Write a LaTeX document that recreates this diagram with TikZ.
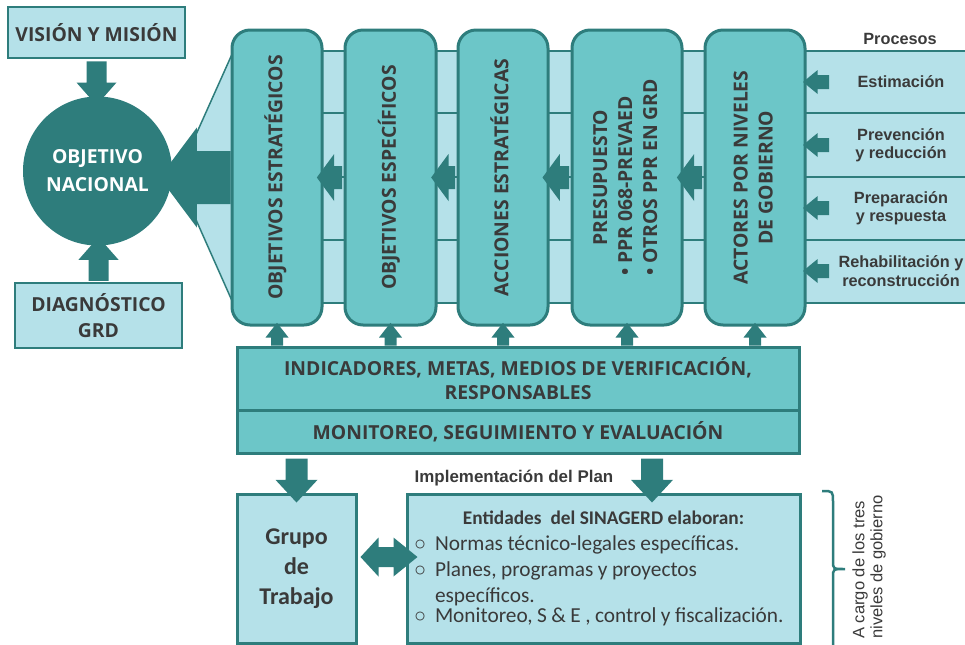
\documentclass[tikz,border=0pt]{standalone}
\usepackage{fontspec}
\usepackage{graphicx}
\setmainfont{Open Sans}
\newfontfamily\arialfont{Liberation Sans}
\newfontfamily\calfont{Carlito}
\usetikzlibrary{calc,positioning}

\definecolor{tealdark}{HTML}{2E7D7C}
\definecolor{tealmid}{HTML}{6CC6C8}
\definecolor{tealpale}{HTML}{B5E1E9}
\definecolor{txtgray}{HTML}{3A3A3A}

\newlength{\px}
\setlength{\px}{0.75pt}
\newcommand{\capsfont}{\bfseries\fontsize{14.5}{18.75}\selectfont}
\newcommand{\listitem}[1]{\par\hangindent=21\px\hangafter=1\noindent
  \makebox[21\px][l]{\arialfont\fontsize{15}{15}\selectfont ○}#1}

\tikzset{
  palebox/.style={draw=tealdark, fill=tealpale, line width=2.5\px, inner sep=0pt, text=txtgray},
  stage/.style={draw=tealdark, fill=tealmid, line width=3\px, rounded corners=18\px,
    minimum width=#1, minimum height=295\px, inner sep=0pt, text=txtgray, font=\capsfont},
  barbox/.style={draw=tealdark, fill=tealmid, line width=3\px, minimum width=562\px,
    inner sep=0pt, text=txtgray, align=center},
  % shaft, head width, head length, start gap, end gap (px)
  blockarrow/.style n args={5}{fill=tealdark, to path={
    let \p1=(\tikztostart), \p2=(\tikztotarget),
        \n1={atan2(\y2-\y1,\x2-\x1)}, \n2={veclen(\x2-\x1,\y2-\y1)/0.75}
    in [shift={(\p1)}, rotate=\n1]
    (#4,-#1/2) -- ({\n2-#5-#3},-#1/2) -- ({\n2-#5-#3},-#2/2) -- ({\n2-#5},0)
    -- ({\n2-#5-#3},#2/2) -- ({\n2-#5-#3},#1/2) -- (#4,#1/2) -- cycle}},
  dblarrow/.style n args={5}{fill=tealdark, to path={
    let \p1=(\tikztostart), \p2=(\tikztotarget),
        \n1={atan2(\y2-\y1,\x2-\x1)}, \n2={veclen(\x2-\x1,\y2-\y1)/0.75}
    in [shift={(\p1)}, rotate=\n1]
    (#4,0) -- ({#4+#3},-#2/2) -- ({#4+#3},-#1/2) -- ({\n2-#5-#3},-#1/2) -- ({\n2-#5-#3},-#2/2)
    -- ({\n2-#5},0) -- ({\n2-#5-#3},#2/2) -- ({\n2-#5-#3},#1/2) -- ({#4+#3},#1/2)
    -- ({#4+#3},#2/2) -- cycle}},
  proc/.style={text=txtgray, font=\arialfont\bfseries\fontsize{12.2}{13.7}\selectfont, align=center}
}

\begin{document}
\begin{tikzpicture}[x=0.75pt, y=-0.75pt]
\useasboundingbox (0,0) rectangle (965,644);
% bandas de procesos
\fill[tealpale] (232,51) rectangle (965,303);
\foreach \yy in {51,113,177,240,303}
  \draw[tealdark, line width=1.5\px] (232,\yy) -- (965,\yy);
\filldraw[fill=tealpale, draw=tealdark, line width=1.5\px] (233,52) -- (177,177) -- (233,303);

% columna izquierda
\node[palebox, minimum width=177\px, minimum height=51\px, font=\capsfont] (vis) at (96.5,32.5) {VISIÓN Y MISIÓN};
\node[circle, fill=tealdark, minimum size=149\px, inner sep=0pt, text=white, align=center,
  font=\bfseries\fontsize{14.5}{21}\selectfont] (obj) at (97.5,171) {OBJETIVO\\NACIONAL};
\node[palebox, minimum width=167\px, minimum height=65\px, align=center,
  font=\bfseries\fontsize{14.5}{20}\selectfont] (dia) at (98.5,315.5) {DIAGNÓSTICO\\GRD};

% etapas
\foreach \bname/\bx/\bw/\btext in {
  a1/277/90/{OBJETIVOS ESTRATÉGICOS},
  a2/390.5/91/{OBJETIVOS ESPECÍFICOS},
  a3/503/90/{ACCIONES ESTRATÉGICAS},
  a4/627/110/{\multicolumn{1}{c}{PRESUPUESTO}\\ • PPR 068-PREVAED\\ • OTROS PPR EN GRD},
  a5/755/100/{ACTORES POR NIVELES\\ \multicolumn{1}{c}{DE GOBIERNO}}}
  \node[stage=\bw\px] (\bname) at (\bx,177.5)
    {\rotatebox{90}{\begin{tabular}{@{}l@{}}\btext\end{tabular}}};

% barra inferior
\node[barbox, minimum height=63\px, font=\bfseries\fontsize{14.5}{17.6}\selectfont] (ind) at (518,378.5)
  {INDICADORES, METAS, MEDIOS DE VERIFICACIÓN,\\RESPONSABLES};
\node[barbox, minimum height=43\px, font=\capsfont] (mon) at (518,431.5)
  {MONITOREO, SEGUIMIENTO Y EVALUACIÓN};

% implementacion
\node[palebox, line width=3\px, minimum width=119\px, minimum height=149\px, align=center,
  font=\calfont\bfseries\fontsize{18}{22.5}\selectfont] (grp) at (296.5,568.5) {Grupo\\de\\Trabajo};
\node[palebox, line width=3\px, minimum width=393\px, minimum height=149\px, text width=379\px] (ent) at (603.5,568.5) {%
  \calfont\fontsize{16}{19.5}\selectfont\raggedright
  {\centering\bfseries\fontsize{14.5}{19.5}\selectfont Entidades\ \ del SINAGERD elaboran:\par}
  \listitem{Normas técnico-legales específicas.}
  \listitem{Planes, programas y proyectos\newline específicos.}
  \listitem{Monitoreo, S \& E , control y fiscalización.}};
\node[proc, font=\arialfont\bfseries\fontsize{12.7}{13}\selectfont] (impl) at (514,478) {Implementación del Plan};

% procesos
\node[proc] (procs) at (900,39) {Procesos};
\foreach \pr/\yy/\ptext in {1/82/{Estimación}, 2/145/{Prevención\\y reducción},
    3/208/{Preparación\\y respuesta}, 4/271/{Rehabilitación y\\reconstrucción}} {
  \node[proc] (p\pr) at (901,\yy) {\ptext};
  \coordinate (e\pr) at (829,\yy);
  \path[blockarrow={14}{24}{11}{0}{3}] (e\pr) to (e\pr -| a5.east);
}

% flechas
\path[blockarrow={20}{40}{17}{2}{2.5}] (vis.south) to (vis.south |- obj.north);
\path[blockarrow={20}{40}{17}{1}{2.5}] (dia.north) to (dia.north |- obj.south);
\path[blockarrow={53}{100}{28}{0}{5}] (a1.west) to (a1.west -| obj.east);
\foreach \src/\dst in {a2/a1,a3/a2,a4/a3,a5/a4}
  \path[blockarrow={23}{47}{13}{1.5}{0}] (\src.west) to (\dst.east);
\foreach \bname in {a1,a2,a3,a4,a5}
  \path[blockarrow={12}{23}{11}{0}{2}] (\bname.south |- ind.north) to (\bname.south);
\path[blockarrow={22}{42}{17}{4}{2}] (mon.south -| grp.north) to (grp.north);
\path[blockarrow={22}{42}{17}{4}{2}] (mon.south -| 652,0) to (ent.north -| 652,0);
\coordinate (dy) at (0,557);
\path[dblarrow={20}{39}{18}{3}{3}] (grp.east |- dy) to (ent.west |- dy);

% llave
\draw[tealdark, line width=2.5\px] (822,491) .. controls (833,491) .. (833,502) -- (833,561)
  .. controls (833,569) .. (845,569) .. controls (833,569) .. (833,577) -- (833,650);
\node[rotate=90, anchor=west, align=left, text=txtgray, inner sep=0pt,
  font=\arialfont\fontsize{12.4}{13.5}\selectfont] (cargo) at (869,639) {A cargo de los tres\\niveles de gobierno};
\end{tikzpicture}
\end{document}
